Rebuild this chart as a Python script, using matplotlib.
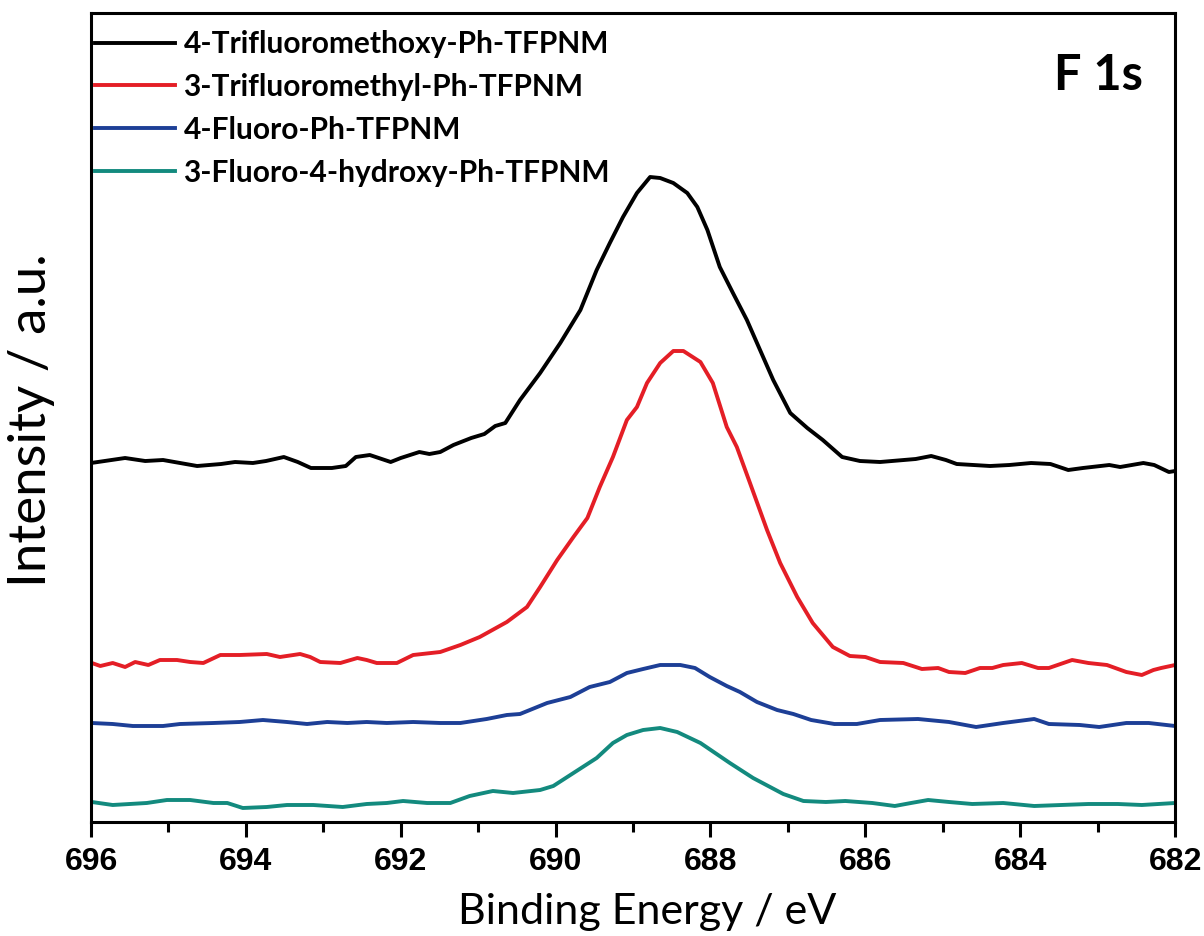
import matplotlib.pyplot as plt
from matplotlib.ticker import MultipleLocator

# binding energy (eV) and intensity (a.u.)
e_ocf3 = [696.00, 695.56, 695.30, 695.07, 694.85, 694.63, 694.32, 694.14, 693.91, 693.74,
          693.51, 693.33, 693.16, 692.89, 692.71, 692.58, 692.40, 692.13, 692.00, 691.76,
          691.63, 691.49, 691.32, 691.09, 690.92, 690.78, 690.65, 690.46, 690.20, 689.94,
          689.68, 689.47, 689.30, 689.13, 688.95, 688.78, 688.65, 688.48, 688.30, 688.17,
          688.04, 687.88, 687.71, 687.53, 687.36, 687.19, 686.97, 686.75, 686.55, 686.30,
          686.07, 685.81, 685.35, 685.15, 684.96, 684.82, 684.39, 684.14, 683.86, 683.61,
          683.38, 683.19, 682.85, 682.71, 682.41, 682.27, 682.08, 682.00]
i_ocf3 = [359, 364, 361, 362, 359, 356, 358, 360, 359, 361,
          365, 360, 354, 354, 356, 365, 367, 360, 364, 370,
          368, 370, 377, 384, 388, 396, 399, 422, 449, 479,
          512, 552, 579, 605, 629, 645, 644, 639, 629, 615,
          592, 555, 529, 502, 472, 442, 409, 394, 382, 365,
          361, 360, 363, 366, 362, 358, 356, 357, 359, 358,
          352, 354, 357, 355, 359, 357, 350, 351]

e_cf3 = [695.99, 695.88, 695.72, 695.56, 695.43, 695.26, 695.11, 694.89, 694.72, 694.55,
         694.33, 694.08, 693.73, 693.56, 693.30, 693.17, 693.04, 692.78, 692.56, 692.44,
         692.31, 692.05, 691.84, 691.49, 691.23, 690.98, 690.63, 690.37, 690.20, 689.98,
         689.77, 689.59, 689.43, 689.26, 689.08, 688.95, 688.82, 688.65, 688.48, 688.35,
         688.13, 687.97, 687.79, 687.66, 687.49, 687.27, 687.10, 686.88, 686.68, 686.42,
         686.20, 686.00, 685.81, 685.51, 685.27, 685.06, 684.92, 684.71, 684.52, 684.36,
         684.22, 683.98, 683.77, 683.63, 683.33, 683.12, 682.88, 682.63, 682.43, 682.28,
         682.18, 682.00]
i_cf3 = [159, 156, 159, 155, 160, 157, 162, 162, 160, 159,
         167, 167, 168, 165, 168, 165, 160, 159, 164, 162,
         159, 159, 167, 170, 177, 185, 200, 215, 235, 262,
         285, 304, 335, 365, 402, 415, 439, 459, 471, 471,
         460, 439, 395, 375, 339, 292, 259, 225, 199, 175,
         166, 165, 160, 159, 153, 154, 150, 149, 154, 154,
         157, 159, 154, 154, 162, 159, 157, 150, 147, 152,
         154, 157]

e_f = [695.99, 695.72, 695.46, 695.07, 694.85, 694.42, 694.08, 693.78, 693.47, 693.21,
       692.95, 692.69, 692.44, 692.18, 691.84, 691.49, 691.23, 690.89, 690.63, 690.46,
       690.11, 689.81, 689.56, 689.30, 689.08, 688.87, 688.65, 688.39, 688.20, 688.01,
       687.79, 687.62, 687.40, 687.14, 686.93, 686.70, 686.40, 686.11, 685.81, 685.32,
       684.92, 684.57, 684.22, 683.82, 683.63, 683.23, 682.98, 682.63, 682.34, 682.00]
i_f = [99, 98, 96, 96, 98, 99, 100, 102, 100, 98,
       100, 99, 100, 99, 100, 99, 99, 103, 107, 108,
       119, 125, 135, 140, 149, 153, 157, 157, 154, 145,
       136, 130, 120, 112, 108, 102, 98, 98, 102, 103,
       100, 95, 99, 103, 98, 97, 95, 99, 99, 96]

e_foh = [695.99, 695.72, 695.28, 695.02, 694.72, 694.42, 694.24, 694.04, 693.73, 693.47,
         693.13, 692.75, 692.44, 692.18, 691.97, 691.66, 691.36, 691.11, 690.81, 690.55,
         690.20, 690.03, 689.77, 689.47, 689.26, 689.08, 688.87, 688.65, 688.43, 688.13,
         687.75, 687.45, 687.06, 686.80, 686.51, 686.26, 685.91, 685.62, 685.41, 685.19,
         684.92, 684.62, 684.22, 683.82, 683.47, 683.12, 682.74, 682.43, 682.00]
i_foh = [20, 17, 19, 22, 22, 19, 19, 14, 15, 17,
         17, 15, 18, 19, 21, 19, 19, 26, 31, 29,
         32, 36, 49, 64, 79, 87, 92, 94, 90, 79,
         59, 44, 28, 21, 20, 21, 19, 16, 19, 22,
         20, 18, 19, 16, 17, 18, 18, 17, 19]

labels = ['4-Trifluoromethoxy-Ph-TFPNM', '3-Trifluoromethyl-Ph-TFPNM',
          '4-Fluoro-Ph-TFPNM', '3-Fluoro-4-hydroxy-Ph-TFPNM']
colors = ['#000000', '#E41E26', '#1D3F96', '#138A7E']

fig = plt.figure(figsize=(12.04, 9.36), dpi=100)
ax = fig.add_axes([0.0756, 0.1218, 0.9004, 0.8643])

for e, i, lab, c in zip([e_ocf3, e_cf3, e_f, e_foh], [i_ocf3, i_cf3, i_f, i_foh], labels, colors):
    ax.plot(e, i, color=c, lw=2.8, label=lab)

ax.set_xlim(696, 682)
ax.set_ylim(0, 809)
ax.xaxis.set_major_locator(MultipleLocator(2))
ax.xaxis.set_minor_locator(MultipleLocator(1))
ax.set_yticks([])
ax.tick_params(axis='x', which='major', direction='out', length=11, width=2.2, pad=7,
               top=False)
ax.tick_params(axis='x', which='minor', direction='out', length=7, width=2.2, top=False)
for s in ax.spines.values():
    s.set_linewidth(2.2)

ax.set_xticks(ax.get_xticks())
ax.set_xticklabels([f'{v:.0f}' for v in ax.get_xticks()],
                   fontfamily='Liberation Sans', fontweight='bold', fontsize=23)
ax.set_xlim(696, 682)

ax.set_xlabel('Binding Energy / eV', fontfamily='Lato', fontsize=31)
ax.xaxis.set_label_coords(0.513, -0.088)
ax.set_ylabel('Intensity / a.u.', fontfamily='Lato', fontsize=38)
ax.yaxis.set_label_coords(-0.033, 0.497)

leg = ax.legend(loc='upper left', bbox_to_anchor=(0.004, 0.979), frameon=False,
                handlelength=2.68, handletextpad=0.27, labelspacing=0.5,
                borderaxespad=0, borderpad=0,
                prop={'family': 'Lato', 'weight': 'bold', 'size': 21.5})

ax.text(0.97, 0.95, 'F 1s', transform=ax.transAxes, ha='right', va='top',
        fontfamily='Lato', fontweight='bold', fontsize=35)

fig.savefig('out.png', dpi=100)
